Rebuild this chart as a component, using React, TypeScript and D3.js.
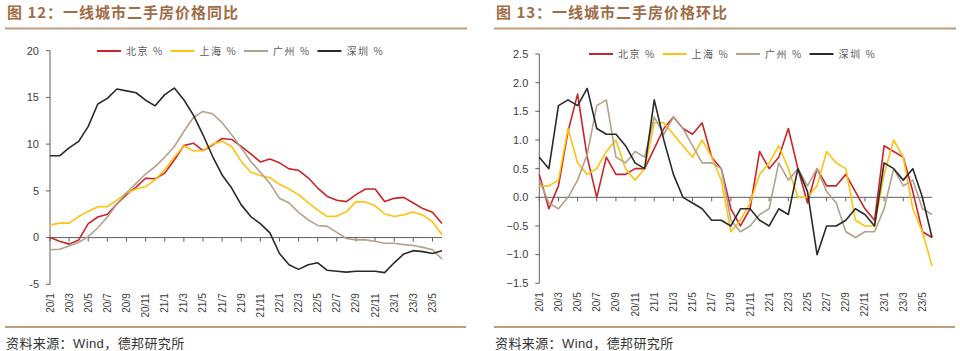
import React from "react";
import * as d3 from "d3";

// 月份（20/1 - 23/6）
const months = [
  "20/1", "20/2", "20/3", "20/4", "20/5", "20/6", "20/7", "20/8", "20/9", "20/10", "20/11", "20/12",
  "21/1", "21/2", "21/3", "21/4", "21/5", "21/6", "21/7", "21/8", "21/9", "21/10", "21/11", "21/12",
  "22/1", "22/2", "22/3", "22/4", "22/5", "22/6", "22/7", "22/8", "22/9", "22/10", "22/11", "22/12",
  "23/1", "23/2", "23/3", "23/4", "23/5", "23/6",
];

const cities = ["北京 %", "上海 %", "广州 %", "深圳 %"];
const colors = ["#cc2229", "#ffc20e", "#b5a18b", "#2a2a2a"];

// 同比
const yoyBJ = [0, -0.4, -0.7, -0.25, 1.5, 2.2, 2.5, 3.6, 4.6, 5.4, 6.35, 6.3, 6.9, 8.3, 9.85, 10.1, 9.3, 9.9, 10.6, 10.5, 9.75, 8.95, 8.1, 8.4, 8.0, 7.35, 7.2, 6.4, 5.3, 4.4, 4.0, 3.85, 4.6, 5.2, 5.2, 3.85, 4.2, 4.3, 3.7, 3.1, 2.7, 1.5];
const yoySH = [1.35, 1.55, 1.55, 2.25, 2.8, 3.3, 3.3, 4.0, 4.75, 5.2, 5.45, 6.2, 7.25, 8.6, 9.8, 9.3, 9.3, 10.0, 10.3, 9.75, 8.15, 7.0, 6.65, 6.4, 5.7, 5.2, 4.6, 3.75, 2.95, 2.25, 2.3, 2.75, 3.85, 3.8, 3.4, 2.55, 2.25, 2.45, 2.75, 2.4, 1.7, 0.3];
const yoyGZ = [-1.3, -1.25, -0.9, -0.5, 0.1, 1.05, 2.2, 3.6, 4.8, 5.8, 6.8, 7.6, 8.6, 9.75, 11.35, 12.85, 13.5, 13.25, 12.3, 11.0, 9.6, 8.15, 7.0, 5.8, 4.2, 3.7, 2.7, 1.9, 1.3, 1.2, 0.55, -0.1, -0.25, -0.25, -0.4, -0.6, -0.6, -0.75, -0.85, -1.05, -1.3, -2.3];
const yoySZ = [8.75, 8.75, 9.6, 10.3, 11.9, 14.3, 14.9, 15.9, 15.7, 15.5, 14.7, 14.1, 15.3, 16.0, 14.75, 13.1, 11.0, 8.7, 6.7, 5.3, 3.5, 2.25, 1.5, 0.5, -1.7, -2.9, -3.4, -2.9, -2.7, -3.5, -3.6, -3.7, -3.6, -3.6, -3.6, -3.75, -2.7, -1.75, -1.4, -1.5, -1.7, -1.4];

// 环比
const momBJ = [0.4, -0.2, 0.2, 1.15, 1.8, 0.7, 0.0, 0.7, 0.4, 0.4, 0.5, 0.5, 0.85, 1.2, 1.4, 1.2, 1.1, 1.3, 0.7, 0.5, -0.2, -0.5, -0.2, 0.8, 0.5, 0.7, 1.2, 0.5, -0.1, 0.5, 0.2, 0.2, 0.4, 0.1, -0.2, -0.4, 0.9, 0.8, 0.7, 0.1, -0.6, -0.7];
const momSH = [0.2, 0.2, 0.3, 1.2, 0.6, 0.4, 0.5, 0.8, 1.0, 0.5, 0.3, 0.5, 1.3, 1.3, 1.1, 0.9, 0.7, 1.0, 0.7, 0.3, -0.6, -0.4, -0.1, 0.4, 0.6, 0.9, 0.5, 0.0, 0.0, 0.2, 0.8, 0.6, 0.5, -0.4, -0.5, -0.5, 0.4, 1.0, 0.7, -0.2, -0.6, -1.2];
const momGZ = [0.3, -0.1, -0.2, 0.0, 0.3, 0.75, 1.6, 1.7, 0.7, 0.6, 0.8, 0.7, 1.4, 1.1, 1.4, 1.2, 0.9, 0.6, 0.6, 0.5, -0.4, -0.6, -0.5, -0.3, -0.2, 0.6, 0.3, 0.5, 0.2, 0.5, 0.1, -0.1, -0.6, -0.7, -0.6, -0.6, -0.2, 0.5, 0.2, 0.3, -0.2, -0.3];
const momSZ = [0.7, 0.5, 1.6, 1.7, 1.6, 1.9, 1.2, 1.1, 1.1, 0.9, 0.6, 0.5, 1.7, 1.0, 0.4, 0.0, -0.1, -0.2, -0.4, -0.4, -0.5, -0.2, -0.2, -0.4, -0.5, -0.2, -0.3, 0.5, 0.1, -1.0, -0.5, -0.5, -0.4, -0.2, -0.3, -0.5, 0.6, 0.5, 0.3, 0.5, 0.0, -0.7];

const yoyTicks = [-5, 0, 5, 10, 15, 20];
const momTicks = [-1.5, -1.0, -0.5, 0.0, 0.5, 1.0, 1.5, 2.0, 2.5];

const titleColor = "#a06c46";
const ruleColor = "#bf9d7c";
const axisColor = "#5f5f5f";
const cjk = "'Noto Sans CJK SC', sans-serif";
const latin = "'Liberation Sans', Arial, sans-serif";

type PanelProps = {
  ox: number;
  title: string;
  series: number[][];
  ticks: number[];
  fmt: (v: number) => string;
  xr: [number, number];
  yr: [number, number];
  legendX: number;
  legendY: number;
};

const Panel = ({ ox, title, series, ticks, fmt, xr, yr, legendX, legendY }: PanelProps) => {
  const x = d3.scalePoint<string>().domain(months).range(xr);
  const y = d3.scaleLinear().domain([ticks[0], ticks[ticks.length - 1]]).range(yr);
  const line = d3
    .line<number>()
    .x((_, i) => x(months[i]) as number)
    .y((d) => y(d));
  const y0 = y(0);
  const bottom = yr[0];

  return (
    <g>
      <text x={ox + 7} y={18} fill={titleColor} fontFamily={cjk} fontWeight={700} fontSize={15} letterSpacing={1}>
        {title}
      </text>
      <line x1={ox + 5} x2={ox + 467} y1={28.5} y2={28.5} stroke={ruleColor} strokeWidth={2} />

      {/* y axis */}
      <line x1={xr[0]} x2={xr[0]} y1={yr[1]} y2={yr[0]} stroke={axisColor} />
      {ticks.map((t) => (
        <g key={t}>
          <line x1={xr[0] - 4} x2={xr[0]} y1={y(t)} y2={y(t)} stroke={axisColor} />
          <text x={xr[0] - 11} y={y(t)} dy="0.35em" textAnchor="end" fontFamily={latin} fontSize={11} fill="#404040">
            {fmt(t)}
          </text>
        </g>
      ))}

      {/* x axis at zero */}
      <line x1={xr[0]} x2={xr[1]} y1={y0} y2={y0} stroke={axisColor} />
      {months.map((m, i) =>
        i % 2 === 0 ? (
          <g key={m}>
            <line x1={x(m)} x2={x(m)} y1={y0} y2={y0 + 4} stroke={axisColor} />
            <text
              transform={`translate(${x(m)},${bottom + 9}) rotate(-90)`}
              dy="0.35em"
              textAnchor="end"
              fontFamily={latin}
              fontSize={10}
              fill="#404040"
            >
              {m}
            </text>
          </g>
        ) : null
      )}

      {series.map((s, k) => (
        <path key={k} d={line(s) || ""} fill="none" stroke={colors[k]} strokeWidth={1.6} strokeLinejoin="round" />
      ))}

      {cities.map((c, k) => (
        <g key={c} transform={`translate(${legendX + k * 73.5},${legendY})`}>
          <line x1={0} x2={24} y1={0} y2={0} stroke={colors[k]} strokeWidth={2} />
          <text x={29} y={0} dy="0.35em" fontFamily={cjk} fontSize={10} fill="#595959" letterSpacing={1.6}>
            {c}
          </text>
        </g>
      ))}

      <line x1={ox + 5} x2={ox + 466} y1={327} y2={327} stroke={ruleColor} strokeWidth={2} />
      <text x={ox + 6} y={348} fontFamily={cjk} fontSize={13} fill="#333" letterSpacing={0.4}>
        资料来源：<tspan fontFamily={latin}>Wind</tspan>，德邦研究所
      </text>
    </g>
  );
};

export default function App() {
  return (
    <svg width={960} height={351} style={{ position: "absolute", left: 0, top: 0, background: "#fff" }}>
      <Panel
        ox={0}
        title="图 12：一线城市二手房价格同比"
        series={[yoyBJ, yoySH, yoyGZ, yoySZ]}
        ticks={yoyTicks}
        fmt={(v) => String(v)}
        xr={[50, 442]}
        yr={[284.3, 50.7]}
        legendX={97}
        legendY={51}
      />
      <Panel
        ox={489}
        title="图 13：一线城市二手房价格环比"
        series={[momBJ, momSH, momGZ, momSZ]}
        ticks={momTicks}
        fmt={d3.format(".1f")}
        xr={[539.3, 932]}
        yr={[283.3, 54]}
        legendX={589}
        legendY={54}
      />
    </svg>
  );
}
